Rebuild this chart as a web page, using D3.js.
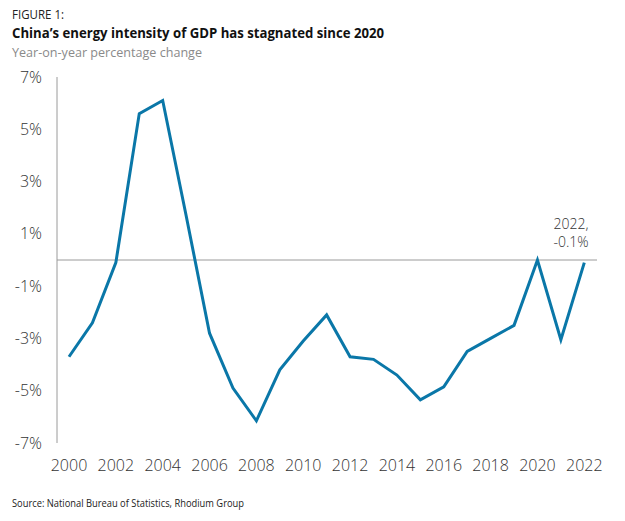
<!DOCTYPE html>
<html>
<head>
<meta charset="utf-8">
<script src="https://cdn.jsdelivr.net/npm/d3@7"></script>
<style>
  html, body { margin: 0; padding: 0; background: #fff; }
  svg { display: block; }
</style>
</head>
<body>
<svg id="chart" width="625" height="521"></svg>
<script>
const years = [2000,2001,2002,2003,2004,2005,2006,2007,2008,2009,2010,2011,2012,2013,2014,2015,2016,2017,2018,2019,2020,2021,2022];
const values = [-3.7,-2.4,-0.1,5.6,6.1,1.7,-2.8,-4.9,-6.15,-4.2,-3.1,-2.1,-3.7,-3.8,-4.4,-5.35,-4.85,-3.5,-3.0,-2.5,0.0,-3.05,-0.1];
const yTicks = [7,5,3,1,-1,-3,-5,-7];
const xTicks = [2000,2002,2004,2006,2008,2010,2012,2014,2016,2018,2020,2022];
const figureLabel = "FIGURE 1:";
const title = "China\u2019s energy intensity of GDP has stagnated since 2020";
const subtitle = "Year-on-year percentage change";
const source = "Source: National Bureau of Statistics, Rhodium Group";
const annotation = ["2022,", "-0.1%"];

const svg = d3.select("#chart");
const font = "'Open Sans', 'Noto Sans', sans-serif";

const x = d3.scaleLinear().domain([2000, 2022]).range([69, 584.3]);
const y = d3.scaleLinear().domain([-7, 7]).range([443, 77]);

// header
svg.append("text").attr("x", 12).attr("y", 18.5)
  .attr("font-family", font).attr("font-size", 12.5).attr("fill", "#222")
  .attr("textLength", 52).attr("lengthAdjust", "spacingAndGlyphs")
  .text(figureLabel);
svg.append("text").attr("x", 12).attr("y", 37.5)
  .attr("font-family", font).attr("font-weight", 700).attr("font-size", 15).attr("fill", "#111")
  .attr("textLength", 372).attr("lengthAdjust", "spacingAndGlyphs")
  .text(title);
svg.append("text").attr("x", 12).attr("y", 56.5)
  .attr("font-family", font).attr("font-size", 13).attr("fill", "#8a8a8a")
  .attr("textLength", 190).attr("lengthAdjust", "spacingAndGlyphs")
  .text(subtitle);

// y axis line
svg.append("line").attr("x1", 57).attr("x2", 57).attr("y1", y(7)).attr("y2", y(-7))
  .attr("stroke", "#9a9a9a").attr("stroke-width", 1);
// zero line
svg.append("line").attr("x1", 57).attr("x2", 597).attr("y1", y(0)).attr("y2", y(0))
  .attr("stroke", "#9a9a9a").attr("stroke-width", 1);

// y tick labels
svg.append("g").selectAll("text").data(yTicks).join("text")
  .attr("x", 42).attr("y", d => y(d)).attr("dy", "0.35em")
  .attr("text-anchor", "end")
  .attr("font-family", font).attr("font-weight", 300).attr("font-size", 16).attr("fill", "#333")
  .text(d => d + "%");

// x tick labels
svg.append("g").selectAll("text").data(xTicks).join("text")
  .attr("x", d => x(d)).attr("y", 465).attr("dy", "0.35em")
  .attr("text-anchor", "middle")
  .attr("font-family", font).attr("font-weight", 300).attr("font-size", 16).attr("fill", "#333")
  .text(d => d);

// line
const line = d3.line().x((d, i) => x(years[i])).y(d => y(d));
svg.append("path").datum(values)
  .attr("d", line)
  .attr("fill", "none").attr("stroke", "#0a77a8").attr("stroke-width", 3)
  .attr("stroke-linejoin", "miter");

// annotation
svg.append("g").selectAll("text").data(annotation).join("text")
  .attr("x", 571).attr("y", (d, i) => 224 + i * 18).attr("dy", "0.35em")
  .attr("text-anchor", "middle")
  .attr("font-family", font).attr("font-weight", 300).attr("font-size", 14).attr("fill", "#333")
  .text(d => d);

// source
svg.append("text").attr("x", 12).attr("y", 507)
  .attr("font-family", font).attr("font-size", 11).attr("fill", "#222")
  .attr("textLength", 232).attr("lengthAdjust", "spacingAndGlyphs")
  .text(source);
</script>
</body>
</html>
